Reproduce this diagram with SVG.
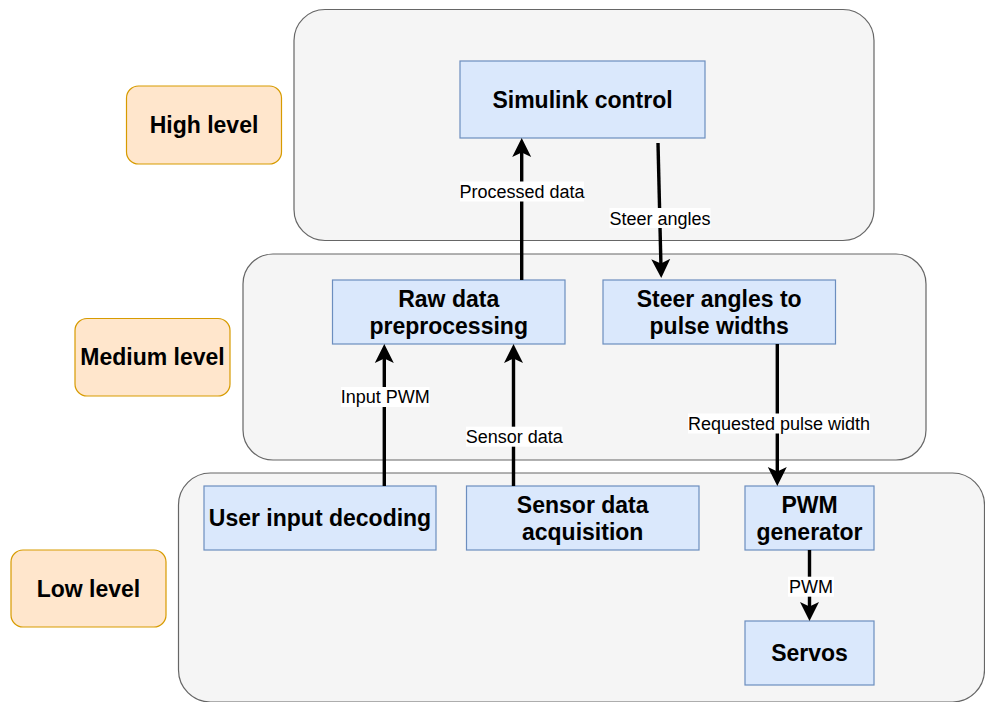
<svg xmlns="http://www.w3.org/2000/svg" width="985" height="702" viewBox="0 0 985 702">
<style>
.cont{fill:#f5f5f5;stroke:#666666;stroke-width:1.2}
.node{fill:#dae8fc;stroke:#6c8ebf;stroke-width:1.2}
.lvl{fill:#ffe6cc;stroke:#d79b00;stroke-width:1.2}
.nt{font-family:"Liberation Sans",Arial,Helvetica,sans-serif;font-weight:bold;font-size:23px;fill:#000;text-anchor:middle}
.el{font-family:"Liberation Sans",Arial,Helvetica,sans-serif;font-size:18px;fill:#000;text-anchor:middle}
.lbg{fill:#ffffff}
.edge{fill:none;stroke:#000;stroke-width:3.4}
</style>
<defs>
<marker id="ah" markerUnits="userSpaceOnUse" viewBox="0 0 20 20" markerWidth="20" markerHeight="20" refX="9" refY="10" orient="auto">
<path d="M0,0.5 L19,10 L0,19.5 L4.5,10 Z" fill="#000"/>
</marker>
</defs>

<g id="high-container"><rect class="cont" x="294" y="9.5" width="580" height="231" rx="31"/></g>
<g id="medium-container"><rect class="cont" x="243" y="254" width="683" height="206" rx="30"/></g>
<g id="low-container"><rect class="cont" x="178.5" y="473" width="806" height="229" rx="32"/></g>

<g id="high-level"><rect class="lvl" x="126.5" y="86" width="155" height="78" rx="12"/><text class="nt" x="204" y="133">High level</text></g>
<g id="medium-level"><rect class="lvl" x="75" y="318.5" width="155" height="77.5" rx="12"/><text class="nt" x="152.5" y="365">Medium level</text></g>
<g id="low-level"><rect class="lvl" x="11" y="550" width="155" height="77" rx="12"/><text class="nt" x="88.5" y="597">Low level</text></g>

<g id="simulink-control"><rect class="node" x="460" y="61" width="245" height="77"/><text class="nt" x="582.5" y="107.5">Simulink control</text></g>
<g id="raw-data-preprocessing"><rect class="node" x="332.5" y="280" width="232.5" height="64"/><text class="nt" x="448.7" y="306.5">Raw data</text><text class="nt" x="448.7" y="333.5">preprocessing</text></g>
<g id="steer-angles-to-pulse-widths"><rect class="node" x="603" y="280" width="232.5" height="64"/><text class="nt" x="719.2" y="306.5">Steer angles to</text><text class="nt" x="719.2" y="333.5">pulse widths</text></g>
<g id="user-input-decoding"><rect class="node" x="204" y="486" width="232" height="64"/><text class="nt" x="320" y="526">User input decoding</text></g>
<g id="sensor-data-acquisition"><rect class="node" x="466.5" y="486" width="232.5" height="64"/><text class="nt" x="582.7" y="512.5">Sensor data</text><text class="nt" x="582.7" y="539.5">acquisition</text></g>
<g id="pwm-generator"><rect class="node" x="745" y="486" width="129" height="64"/><text class="nt" x="809.5" y="512.5">PWM</text><text class="nt" x="809.5" y="539.5">generator</text></g>
<g id="servos"><rect class="node" x="745" y="621" width="129" height="64"/><text class="nt" x="809.5" y="661">Servos</text></g>

<g id="connectors">
<path class="edge" d="M521.7,280 L521.7,148" marker-end="url(#ah)"/>
<rect class="lbg" x="460" y="181.5" width="124" height="20"/>
<text class="el" x="522" y="197.5">Processed data</text>

<path class="edge" d="M658,143 L661,268" marker-end="url(#ah)"/>
<rect class="lbg" x="609.5" y="208" width="101" height="20"/>
<text class="el" x="660" y="224.5">Steer angles</text>

<path class="edge" d="M384.3,486 L384.3,354" marker-end="url(#ah)"/>
<rect class="lbg" x="341" y="387" width="88.5" height="20"/>
<text class="el" x="385.2" y="403.3">Input PWM</text>

<path class="edge" d="M513.5,486 L513.5,354" marker-end="url(#ah)"/>
<rect class="lbg" x="466" y="426.7" width="96.5" height="20"/>
<text class="el" x="514.2" y="443">Sensor data</text>

<path class="edge" d="M777.3,344 L777.3,476" marker-end="url(#ah)"/>
<rect class="lbg" x="688" y="413.5" width="182" height="20"/>
<text class="el" x="779" y="430">Requested pulse width</text>

<path class="edge" d="M809.5,550 L809.5,611" marker-end="url(#ah)"/>
<rect class="lbg" x="788" y="576.7" width="46" height="20"/>
<text class="el" x="811" y="593">PWM</text>
</g>
</svg>
